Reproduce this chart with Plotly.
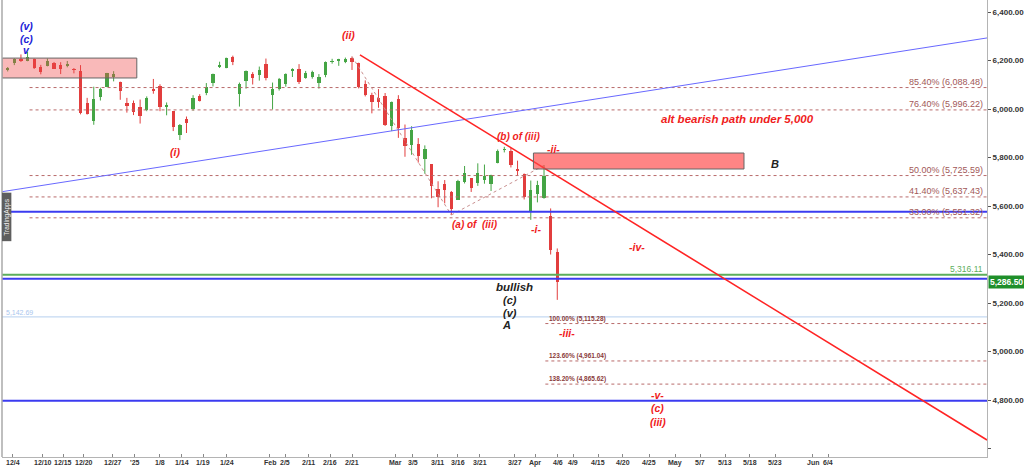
import plotly.graph_objects as go

# ---------------- data ----------------
session_dates = ["12/3", "12/4", "12/5", "12/6", "12/9", "12/10", "12/11", "12/12", "12/13", "12/16",
                 "12/17", "12/18", "12/19", "12/20", "12/23", "12/24", "12/26", "12/27", "12/30", "12/31",
                 "1/2", "1/3", "1/6", "1/7", "1/8", "1/10", "1/13", "1/14", "1/15", "1/16",
                 "1/17", "1/21", "1/22", "1/23", "1/24", "1/27", "1/28", "1/29", "1/30", "1/31",
                 "2/3", "2/4", "2/5", "2/6", "2/7", "2/10", "2/11", "2/12", "2/13", "2/14",
                 "2/18", "2/19", "2/20", "2/21", "2/24", "2/25", "2/26", "2/27", "2/28", "3/3",
                 "3/4", "3/5", "3/6", "3/7", "3/10", "3/11", "3/12", "3/13", "3/14", "3/17",
                 "3/18", "3/19", "3/20", "3/21", "3/24", "3/25", "3/26", "3/27", "3/28", "3/31",
                 "4/1", "4/2", "4/3", "4/4"]
first_session = -1  # session index of the first candle (12/4 = 0)

opens = [6163, 6189, 6208, 6199, 6205, 6175, 6176, 6189, 6182, 6176,
         6164, 6158, 6024, 5952, 6049, 6092, 6132, 6113, 6026, 6025,
         6007, 5995, 6084, 6095, 6010, 5990, 5891, 5957, 6002, 6052,
         6064, 6109, 6175, 6169, 6214, 6060, 6116, 6146, 6139, 6185,
         6056, 6084, 6105, 6156, 6167, 6129, 6132, 6107, 6142, 6194,
         6199, 6195, 6211, 6190, 6102, 6057, 6044, 6053, 5929, 6040,
         5882, 5851, 5854, 5793, 5772, 5669, 5689, 5658, 5626, 5697,
         5715, 5694, 5706, 5689, 5776, 5832, 5827, 5751, 5734, 5581,
         5650, 5633, 5560, 5410]
highs = [6173, 6209, 6225, 6236, 6208, 6182, 6208, 6194, 6193, 6198,
         6169, 6181, 6046, 6092, 6088, 6149, 6156, 6113, 6046, 6035,
         6039, 6052, 6124, 6102, 6027, 5990, 5938, 5969, 6057, 6061,
         6107, 6146, 6195, 6212, 6220, 6109, 6159, 6152, 6175, 6208,
         6109, 6128, 6147, 6168, 6185, 6157, 6158, 6144, 6196, 6207,
         6207, 6212, 6216, 6191, 6118, 6067, 6082, 6066, 6031, 6057,
         5936, 5929, 5880, 5850, 5772, 5702, 5707, 5662, 5708, 5765,
         5715, 5776, 5771, 5729, 5833, 5844, 5840, 5787, 5734, 5705,
         5704, 5769, 5590, 5425]
lows = [6155, 6181, 6194, 6197, 6165, 6143, 6176, 6166, 6144, 6172,
        6147, 5978, 5977, 5935, 6035, 6090, 6114, 6038, 5985, 5975,
        5940, 5991, 6063, 5991, 5974, 5909, 5872, 5901, 5993, 6031,
        6057, 6093, 6169, 6168, 6181, 6010, 6084, 6101, 6117, 6118,
        5998, 6076, 6092, 6132, 6103, 6125, 6125, 6084, 6131, 6187,
        6178, 6189, 6161, 6085, 6052, 5982, 6005, 5930, 5909, 5881,
        5803, 5811, 5779, 5733, 5632, 5595, 5611, 5563, 5626, 5693,
        5658, 5683, 5692, 5662, 5776, 5821, 5759, 5725, 5627, 5543,
        5615, 5630, 5400, 5213]
closes = [6171, 6206, 6196, 6215, 6170, 6151, 6200, 6166, 6165, 6187,
          6162, 5983, 5978, 6040, 6083, 6148, 6144, 6076, 6012, 5987,
          5973, 6045, 6077, 6010, 6018, 5927, 5935, 5941, 6047, 6033,
          6092, 6143, 6180, 6212, 6193, 6103, 6157, 6128, 6160, 6129,
          6081, 6124, 6146, 6167, 6110, 6149, 6151, 6133, 6195, 6194,
          6207, 6205, 6195, 6089, 6058, 6029, 6029, 5933, 6027, 5921,
          5848, 5912, 5807, 5837, 5682, 5638, 5664, 5586, 5702, 5737,
          5676, 5736, 5722, 5726, 5826, 5834, 5768, 5748, 5636, 5666,
          5686, 5723, 5420, 5286.5]

tick_labels = ["12/4", "12/10", "12/15", "12/20", "12/27", "'25", "1/8", "1/14", "1/19", "1/24",
               "Feb", "2/5", "2/11", "2/16", "2/21", "Mar", "3/5", "3/11", "3/16", "3/21",
               "3/27", "Apr", "4/6", "4/9", "4/15", "4/20", "4/25", "May", "5/7", "5/13",
               "5/18", "5/23", "Jun", "6/4"]
tick_sessions = [0.3, 4.8, 7.9, 11.0, 15.4, 18.7, 22.5, 25.8, 29.0, 32.6,
                 39.1, 41.4, 44.9, 48.2, 51.5, 58.0, 60.7, 64.4, 67.5, 70.8,
                 76.1, 79.2, 82.6, 84.9, 88.7, 92.4, 96.4, 100.3, 104.1, 107.9,
                 111.6, 115.4, 121.1, 123.4]

price_ticks = [4600, 4800, 5000, 5200, 5400, 5600, 5800, 6000, 6200, 6400]

fib_ret_pct = [85.40, 76.40, 50.00, 41.40, 33.00]
fib_ret_val = [6088.48, 5996.22, 5725.59, 5637.43, 5551.32]
fib_ret_start = 2.8
fib_ext_pct = [100.00, 123.60, 138.20]
fib_ext_val = [5115.28, 4961.04, 4865.62]
fib_ext_start = 80.7
fib_path_sessions = [51.5, 66.5, 80.6]
fib_path_prices = [6216.6, 5563.0, 5768.9]

blue_levels = [5576, 5300, 4797]
green_level = 5316.11
lightblue_level = 5142.69
last_price = 5286.50

blue_trend_sessions = [-1.36, 147.4]
blue_trend_prices = [5659, 6293]
red_trend_sessions = [52.7, 147.4]
red_trend_prices = [6223, 4635]

box1_sessions = [-1.36, 19.0]
box1_prices = [6128, 6210]
box2_sessions = [78.9, 110.7]
box2_prices = [5752.6, 5818.6]

X_RANGE = [-1.36, 147.4]
Y_RANGE = [4565, 6449.5]

# wave labels: (text, session, price, color, size)
RED = "#f01c1c"
BLUE = "#2323d8"
BLK = "#222222"
wave_labels = [
    ("(v)", 2.4, 6342, BLUE, 10.5),
    ("(c)", 2.4, 6289, BLUE, 10.5),
    ("v", 2.4, 6245, BLUE, 10.5),
    ("(i)", 24.8, 5823, RED, 10.5),
    ("(ii)", 50.9, 6305, RED, 10.5),
    ("(b) of (iii)", 76.6, 5885, RED, 10),
    ("(a) of  (iii)", 70.1, 5522, RED, 10),
    ("-i-", 79.3, 5505, RED, 10.5),
    ("-ii-", 81.9, 5835, RED, 10.5),
    ("-iii-", 84.0, 5076, RED, 10.5),
    ("-iv-", 94.6, 5431, RED, 10.5),
    ("-v-", 97.6, 4821, RED, 10.5),
    ("(c)", 97.6, 4767, RED, 10.5),
    ("(iii)", 97.7, 4709, RED, 10.5),
    ("alt bearish path under 5,000", 109.7, 5959, RED, 11.5),
    ("B", 115.4, 5773, BLK, 11),
    ("bullish", 76.1, 5266, BLK, 11.5),
    ("(c)", 75.3, 5212, BLK, 11),
    ("(v)", 75.3, 5159, BLK, 11),
    ("A", 74.9, 5109, BLK, 11),
]

# ---------------- figure ----------------
UP = "#45a545"
DN = "#e23e3e"
FIB = "#b86a6a"
FONT = "Arial, Liberation Sans, sans-serif"

fig = go.Figure()
xs = [first_session + i + 0.5 for i in range(len(session_dates))]

# wicks (one trace per direction)
for up, col in ((True, UP), (False, DN)):
    wx, wy = [], []
    for x, o, h, l, c in zip(xs, opens, highs, lows, closes):
        if (c >= o) == up:
            wx += [x, x, None]
            wy += [l, h, None]
    fig.add_trace(go.Scatter(x=wx, y=wy, mode="lines", line=dict(color=col, width=1),
                             hoverinfo="skip", showlegend=False))
# bodies
fig.add_trace(go.Bar(
    x=xs, base=[min(o, c) for o, c in zip(opens, closes)],
    y=[max(abs(c - o), 2) for o, c in zip(opens, closes)],
    width=0.5, marker=dict(color=[UP if c >= o else DN for o, c in zip(opens, closes)], line=dict(width=0)),
    text=session_dates, hoverinfo="text", textposition="none", showlegend=False,
))

shapes = []
for v in fib_ret_val:
    shapes.append(dict(type="line", xref="x", yref="y", x0=fib_ret_start, x1=X_RANGE[1],
                       y0=v, y1=v, line=dict(color=FIB, width=1, dash="dot")))
for v in fib_ext_val:
    shapes.append(dict(type="line", xref="x", yref="y", x0=fib_ext_start, x1=X_RANGE[1],
                       y0=v, y1=v, line=dict(color=FIB, width=1, dash="dot")))
for i in range(len(fib_path_sessions) - 1):
    shapes.append(dict(type="line", xref="x", yref="y",
                       x0=fib_path_sessions[i], x1=fib_path_sessions[i + 1],
                       y0=fib_path_prices[i], y1=fib_path_prices[i + 1],
                       line=dict(color="#c99090", width=1, dash="dot")))
shapes.append(dict(type="line", xref="paper", yref="y", x0=0, x1=1, y0=lightblue_level, y1=lightblue_level,
                   line=dict(color="#c4d9f2", width=1.2)))
shapes.append(dict(type="line", xref="paper", yref="y", x0=0, x1=1, y0=green_level, y1=green_level,
                   line=dict(color="#5cae5c", width=2)))
for v in blue_levels:
    shapes.append(dict(type="line", xref="paper", yref="y", x0=0, x1=1, y0=v, y1=v,
                       line=dict(color="#3b3bf0", width=2)))
shapes.append(dict(type="line", xref="x", yref="y", x0=blue_trend_sessions[0], x1=blue_trend_sessions[1],
                   y0=blue_trend_prices[0], y1=blue_trend_prices[1], line=dict(color="#6868ff", width=1)))
shapes.append(dict(type="line", xref="x", yref="y", x0=red_trend_sessions[0], x1=red_trend_sessions[1],
                   y0=red_trend_prices[0], y1=red_trend_prices[1], line=dict(color="#ff2424", width=1.6)))
shapes.append(dict(type="rect", xref="x", yref="y", x0=box1_sessions[0], x1=box1_sessions[1],
                   y0=box1_prices[0], y1=box1_prices[1],
                   fillcolor="rgba(240,70,70,0.38)", line=dict(color="#666666", width=1)))
shapes.append(dict(type="rect", xref="x", yref="y", x0=box2_sessions[0], x1=box2_sessions[1],
                   y0=box2_prices[0], y1=box2_prices[1],
                   fillcolor="rgba(255,70,70,0.66)", line=dict(color="#666666", width=1)))
shapes.append(dict(type="line", xref="paper", yref="paper", x0=0, x1=0, y0=0, y1=1,
                   line=dict(color="#aaaaaa", width=1.5)))
shapes.append(dict(type="rect", xref="paper", yref="y", x0=0, x1=0.0095, y0=5455, y1=5655,
                   fillcolor="#5e5e5e", line=dict(width=0)))

annotations = []
# date labels under the time axis
for s, t in zip(tick_sessions, tick_labels):
    annotations.append(dict(xref="x", yref="paper", x=s, y=0, xanchor="center", yanchor="top",
                            text=f"<b>{t}</b>", showarrow=False, yshift=-1, borderpad=0,
                            font=dict(family=FONT, size=7, color="#333333")))
for p, v in zip(fib_ret_pct, fib_ret_val):
    annotations.append(dict(xref="paper", yref="y", x=0.998, y=v, xanchor="right", yanchor="bottom",
                            text=f"{p:.2f}% ({v:,.2f})", showarrow=False,
                            font=dict(family=FONT, size=9, color="#a25858"), yshift=-1))
for p, v in zip(fib_ext_pct, fib_ext_val):
    annotations.append(dict(xref="x", yref="y", x=fib_ext_start + 0.3, y=v, xanchor="left", yanchor="bottom",
                            text=f"<b>{p:.2f}% ({v:,.2f})</b>", showarrow=False,
                            font=dict(family=FONT, size=6.5, color="#8a3a3a"), yshift=-1))
annotations.append(dict(xref="paper", yref="y", x=0.998, y=green_level, xanchor="right", yanchor="bottom",
                        text=f"{green_level:,.2f}", showarrow=False,
                        font=dict(family=FONT, size=8.5, color="#5cae5c"), yshift=-1))
annotations.append(dict(xref="paper", yref="y", x=0.002, y=lightblue_level, xanchor="left", yanchor="bottom",
                        text=f"{lightblue_level:,.2f}", showarrow=False,
                        font=dict(family=FONT, size=7, color="#a9c6ee"), yshift=-1))
annotations.append(dict(xref="paper", yref="y", x=1, y=last_price, xanchor="left", yanchor="middle",
                        text=f"<b>{last_price:,.2f}</b>", showarrow=False, bgcolor="#1f8f2a",
                        borderpad=1, xshift=1,
                        font=dict(family=FONT, size=8.5, color="white")))
annotations.append(dict(xref="paper", yref="y", x=0.0048, y=5555, xanchor="center", yanchor="middle",
                        text="TradingApps", textangle=-90, showarrow=False,
                        font=dict(family=FONT, size=6.5, color="#f0f0f0")))
for t, s, p, c, fs in wave_labels:
    annotations.append(dict(xref="x", yref="y", x=s, y=p, text=f"<b><i>{t}</i></b>", showarrow=False,
                            xanchor="center", yanchor="middle",
                            font=dict(family=FONT, size=fs, color=c)))

fig.update_layout(
    width=1024, height=469,
    margin=dict(l=2, r=37, t=0, b=12),
    paper_bgcolor="white", plot_bgcolor="white",
    showlegend=False, bargap=0,
    shapes=shapes, annotations=annotations,
    xaxis=dict(range=X_RANGE, tickmode="array", tickvals=tick_sessions, showticklabels=False,
               showgrid=False, zeroline=False, showline=True, linecolor="#b4b4b4", linewidth=1,
               ticks="inside", ticklen=3, tickcolor="#888888",
               automargin=False, fixedrange=True),
    yaxis=dict(range=Y_RANGE, side="right", tickmode="array", tickvals=price_ticks,
               ticktext=["" if v == 4600 else f"{v:,.2f}" for v in price_ticks],
               showgrid=False, zeroline=False, showline=True, linecolor="#b4b4b4", linewidth=1,
               ticks="outside", ticklen=3, tickcolor="#555555",
               tickfont=dict(family=FONT, size=8, color="#333333", weight="bold"),
               automargin=False, fixedrange=True),
)

fig.write_html("out.html", config={"displayModeBar": False},
               post_script="document.body.style.margin='0';document.body.style.padding='0';"
                           "document.body.style.overflow='hidden';")
